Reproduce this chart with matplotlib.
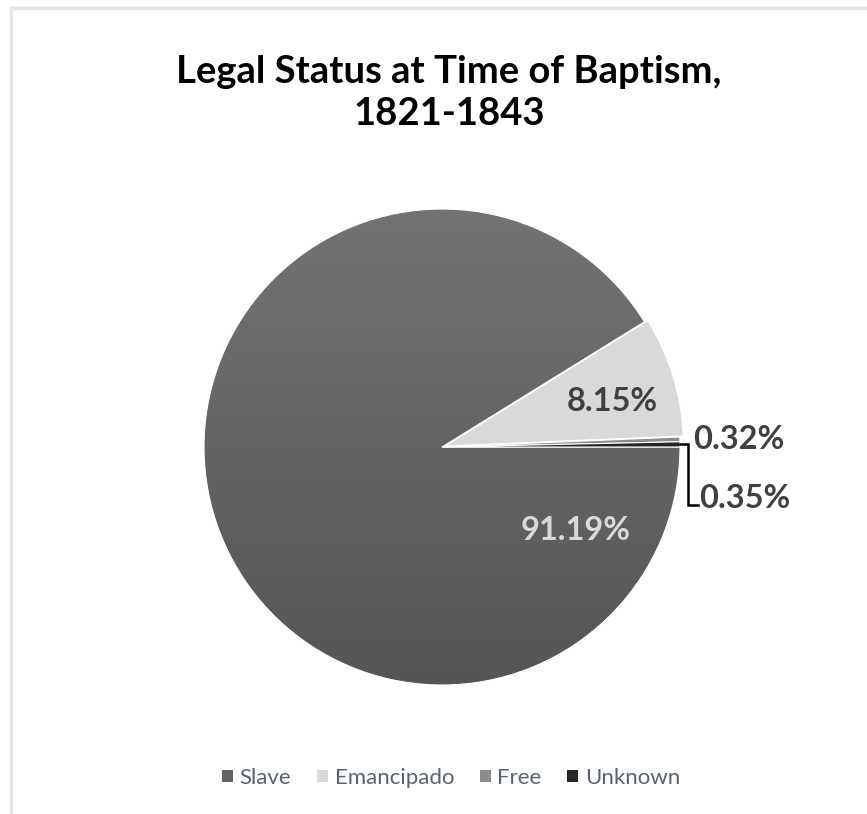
import numpy as np
import matplotlib
matplotlib.use("Agg")
import matplotlib.pyplot as plt
from matplotlib.patches import Patch, Rectangle

plt.rcParams['font.family'] = ['Lato', 'DejaVu Sans']

labels = ["Slave", "Emancipado", "Free", "Unknown"]
shares = [91.19, 8.15, 0.32, 0.35]
colors = ["#636363", "#D9D9D9", "#8C8C8C", "#262626"]

W, H, DPI = 867, 814, 100
fig = plt.figure(figsize=(W / DPI, H / DPI), dpi=DPI)

# light frame (only top and left visible, chart is cropped)
fig.patches.append(Rectangle((11 / W, -0.1), 1.2, 1 - 8 / H + 0.1, transform=fig.transFigure,
                             fill=False, edgecolor="#E2E5EA", linewidth=2.5))

# pie axes: centre at (442, 447) px, radius 238 px
R = 238
cx, cy = 442, 447
half = 300
ax = fig.add_axes([(cx - half) / W, (H - cy - half) / H, 2 * half / W, 2 * half / H])
lim = half / R

wedges, _ = ax.pie(shares, colors=colors, startangle=0, counterclock=False,
                   explode=[0, 0.015, 0, 0],
                   wedgeprops=dict(edgecolor="white", linewidth=0.8), radius=1)

# vertical gradient for the big slice
grad = np.linspace(0, 1, 256).reshape(-1, 1)
cmap = matplotlib.colors.LinearSegmentedColormap.from_list("g", ["#737373", "#555555"])
img = ax.imshow(grad, extent=(-1, 1, -1, 1), cmap=cmap, origin='upper', aspect='auto', zorder=0.9)
img.set_clip_path(wedges[0])
wedges[0].set_facecolor((0, 0, 0, 0))
ax.set_xlim(-lim, lim)
ax.set_ylim(-lim, lim)
ax.set_aspect('equal')
ax.axis('off')


def mid(w):
    return np.deg2rad((w.theta1 + w.theta2) / 2)


lab_kw = dict(fontsize=23.5, fontweight='bold')

# data labels
a = mid(wedges[1])
ax.text(0.76 * np.cos(a) - 0.01, 0.76 * np.sin(a) - 0.03, f"{shares[1]:.2f}%", ha='center', va='center',
        color="#404040", **lab_kw)
a = np.deg2rad(-32)
ax.text(0.66 * np.cos(a), 0.66 * np.sin(a), f"{shares[0]:.2f}%",
        ha='center', va='center', color="#D9D9D9", **lab_kw)

ax.text(1.055, 0.03, f"{shares[2]:.2f}%", ha='left', va='center', color="#404040", **lab_kw)

a = mid(wedges[3])
x0, y0 = np.cos(a), np.sin(a)
ax.plot([x0, 1.033, 1.033, 1.075], [y0, y0, -0.245, -0.245], color="black", lw=1.8,
        solid_joinstyle='miter', zorder=3)
ax.text(1.08, -0.215, f"{shares[3]:.2f}%", ha='left', va='center', color="#404040", **lab_kw)

fig.text(449 / W, 1 - 93 / H, "Legal Status at Time of Baptism,\n1821-1843", ha='center', va='center',
         fontsize=27.5, fontweight='bold', color="black", linespacing=1.3)

handles = [Patch(facecolor=c, edgecolor='none') for c in colors]
fig.legend(handles, labels, loc='center', bbox_to_anchor=(451 / W, 1 - 778 / H), ncol=4, frameon=False,
           fontsize=16, handlelength=0.5, handleheight=0.5, handletextpad=0.3, columnspacing=1.15,
           labelcolor="#5A6373")

fig.savefig("out.png", dpi=DPI)
